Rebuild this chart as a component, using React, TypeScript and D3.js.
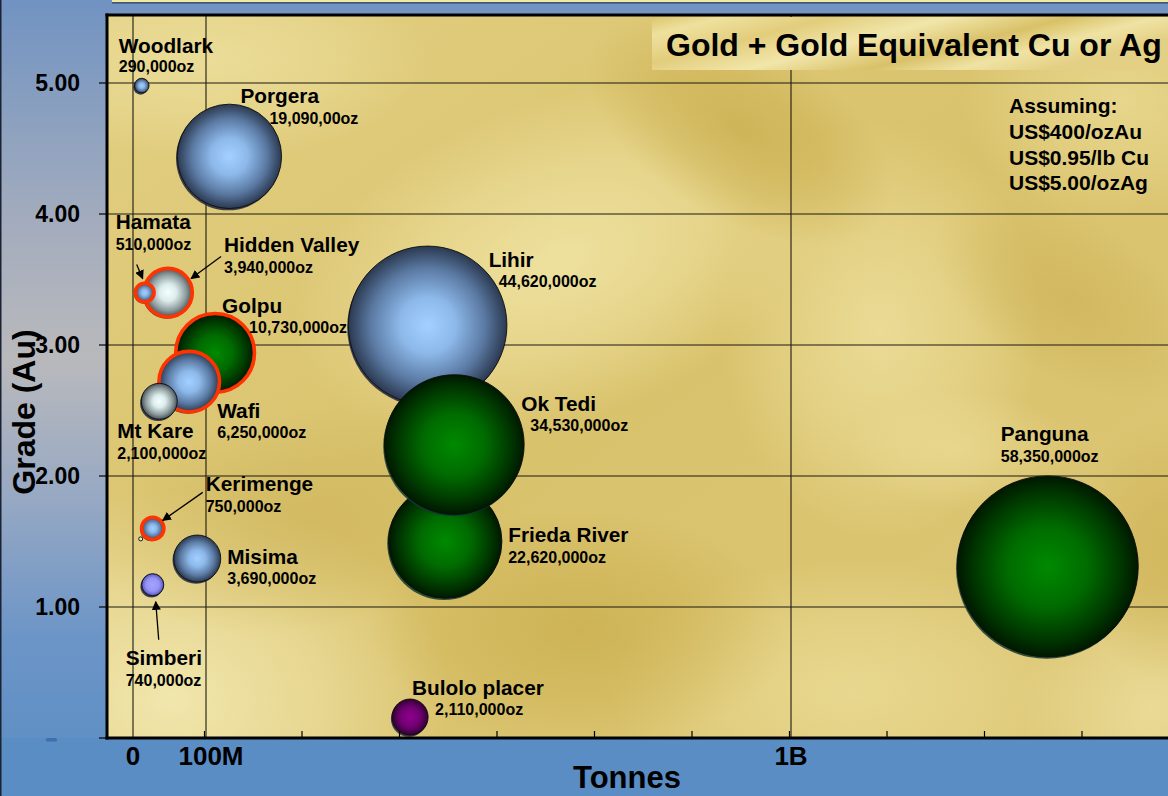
import React from "react";
import * as d3 from "d3";

// ---------- data ----------
const title = "Gold + Gold Equivalent Cu or Ag";
const assumptions = ["Assuming:", "US$400/ozAu", "US$0.95/lb Cu", "US$5.00/ozAg"];

// draw order (back to front)
const deposits = [
  "Woodlark", "Porgera", "Hidden Valley", "Hamata", "Golpu", "Wafi", "Mt Kare",
  "Kerimenge", "Misima", "Simberi", "Bulolo placer", "Lihir", "Frieda River", "Ok Tedi", "Panguna",
];
// ore tonnage, million tonnes
const tonnesMt = [12, 136, 48, 16, 114, 77, 36, 27, 88, 27, 414, 441, 468, 482, 1395];
// grade g/t Au (equivalent)
const gradeAu = [4.98, 4.44, 3.4, 3.4, 2.94, 2.72, 2.57, 1.6, 1.37, 1.17, 0.16, 3.15, 1.5, 2.24, 1.31];
// contained ounces
const ounces = [
  290000, 19090000, 3940000, 510000, 10730000, 6250000, 2100000,
  750000, 3690000, 740000, 2110000, 44620000, 22620000, 34530000, 58350000,
];
const ozText = [
  "290,000oz", "19,090,00oz", "3,940,000oz", "510,000oz", "10,730,000oz", "6,250,000oz", "2,100,000oz",
  "750,000oz", "3,690,000oz", "740,000oz", "2,110,000oz", "44,620,000oz", "22,620,000oz", "34,530,000oz", "58,350,000oz",
];
const oreType = [
  "blue", "blue", "white", "blue", "green", "blue", "white",
  "blue", "blue", "lavender", "purple", "blue", "green", "green", "green",
];
const highlighted = [false, false, true, true, true, true, false, true, false, false, false, false, false, false, false];

const gradeTicks = [0, 1, 2, 3, 4, 5];
const gradeTickLabels = ["", "1.00", "2.00", "3.00", "4.00", "5.00"];
const tonneGrid = [0, 100, 1000];
const tonneLabels = ["0", "100M", "1B"];

// ---------- layout (label offsets from bubble centre) ----------
const labelLayout: Record<string, [number, number, number, number]> = {
  "Woodlark": [-23, -33, -23, -14],
  "Porgera": [11, -53, 40, -32],
  "Hidden Valley": [56, -41, 56, -20],
  "Hamata": [-29, -64, -29, -43],
  "Golpu": [7, -40, 34, -20],
  "Wafi": [28, 36, 28, 56],
  "Mt Kare": [-42, 37, -42, 58],
  "Kerimenge": [53, -37, 53, -16],
  "Misima": [30, 5, 30, 25],
  "Simberi": [-27, 80, -27, 101],
  "Bulolo placer": [2, -22, 25, -2],
  "Lihir": [61, -58, 71, -38],
  "Frieda River": [63, 0, 63, 21],
  "Ok Tedi": [67, -34, 76, -14],
  "Panguna": [-47, -125, -47, -104],
};
const arrowLayout: Record<string, [number, number, number, number]> = {
  "Hamata": [-8, -28, -2, -14],
  "Hidden Valley": [53, -36, 23, -14],
  "Kerimenge": [50, -36, 10, -8],
  "Simberi": [6, 55, 3, 17],
};

const W = 1168;
const H = 796;
const FONT = "'Liberation Sans', Arial, Helvetica, sans-serif";

// [cx, cy, rx, ry, angle, colour, opacity]
const goldBlobs: [number, number, number, number, number, string, number][] = [
  [210, 60, 220, 100, 0, "#ecdf9c", 0.85],
  [560, 260, 280, 160, -20, "#f0e4a4", 0.9],
  [880, 330, 160, 210, 0, "#eddf9c", 0.85],
  [1120, 100, 160, 120, 0, "#ebdc96", 0.75],
  [170, 700, 280, 210, 0, "#f2e8b0", 0.95],
  [850, 690, 240, 130, 0, "#ebdc96", 0.8],
  [1150, 710, 130, 120, 0, "#ede0a0", 0.75],
  [960, 450, 110, 60, 0, "#ecdd98", 0.6],
  [740, 130, 170, 90, 30, "#c8ab4a", 0.7],
  [1070, 300, 150, 80, 30, "#cbb054", 0.55],
  [310, 520, 210, 110, -10, "#ccb257", 0.55],
  [580, 630, 210, 120, 0, "#c7ab48", 0.65],
  [1165, 550, 90, 130, 0, "#c9ac4c", 0.55],
];

const sphereStops: Record<string, [number, string][]> = {
  blue: [[0, "#a2d0ff"], [0.35, "#8db9ea"], [0.72, "#5b7aa3"], [1, "#2b3950"]],
  white: [[0, "#f4ffff"], [0.35, "#dcecec"], [0.75, "#8c9a9c"], [1, "#48525a"]],
  green: [[0, "#008a00"], [0.45, "#006b00"], [0.82, "#003500"], [1, "#001800"]],
  purple: [[0, "#8e008e"], [0.55, "#720072"], [0.9, "#420042"], [1, "#2a002a"]],
  lavender: [[0, "#a4a4ff"], [0.6, "#9494f4"], [0.88, "#6a6ad0"], [1, "#3a3a8a"]],
};

export default function App() {
  const plotLeft = 107;
  const plotTop = 15;
  const plotBottom = 738;

  const x = d3.scaleLinear().domain([0, 100, 1000]).range([133, 206, 791]);
  const y = d3.scaleLinear().domain([0, 5]).range([plotBottom, 83]);
  const r = d3.scaleSqrt().domain([0, 58350000]).range([0, 89.5]);
  const minorAxis = d3.scaleLinear().domain([0, 11]).range([plotLeft, plotLeft + 11 * 97.5]);
  const minorTicks = minorAxis.ticks(11).filter((t) => t > 0 && minorAxis(t) < W);

  const bubbles = deposits.map((name, i) => ({
    name,
    cx: x(tonnesMt[i]),
    cy: y(gradeAu[i]),
    rad: r(ounces[i]) + 1,
    type: oreType[i],
    ring: highlighted[i],
    oz: ozText[i],
  }));

  return (
    <svg
      width={W}
      height={H}
      viewBox={`0 0 ${W} ${H}`}
      style={{ position: "fixed", left: 0, top: 0, display: "block" }}
      fontFamily={FONT}
    >
      <defs>
        <linearGradient id="bg" x1="0" y1="0" x2="0" y2="1">
          <stop offset="0" stopColor="#7193c2" />
          <stop offset="0.28" stopColor="#a3acbd" />
          <stop offset="0.45" stopColor="#b9b9bc" />
          <stop offset="0.62" stopColor="#98a9c3" />
          <stop offset="0.8" stopColor="#6c95c7" />
          <stop offset="1" stopColor="#5a8dc4" />
        </linearGradient>
        <linearGradient id="goldBase" x1="0" y1="0" x2="1" y2="1">
          <stop offset="0" stopColor="#e2cf82" />
          <stop offset="0.5" stopColor="#d9c26c" />
          <stop offset="1" stopColor="#ddc776" />
        </linearGradient>
        {goldBlobs.map((b, i) => (
          <radialGradient key={i} id={`blob${i}`}>
            <stop offset="0" stopColor={b[5]} stopOpacity={b[6]} />
            <stop offset="0.55" stopColor={b[5]} stopOpacity={b[6] * 0.55} />
            <stop offset="1" stopColor={b[5]} stopOpacity={0} />
          </radialGradient>
        ))}
        <linearGradient id="titleGrad" x1="0" y1="0" x2="1" y2="0.4">
          <stop offset="0" stopColor="#dcc56e" />
          <stop offset="0.12" stopColor="#eee19e" />
          <stop offset="0.3" stopColor="#e2cd7c" />
          <stop offset="0.5" stopColor="#f1e6aa" />
          <stop offset="0.7" stopColor="#d9c168" />
          <stop offset="0.85" stopColor="#efe3a4" />
          <stop offset="1" stopColor="#e4d084" />
        </linearGradient>
        {Object.entries(sphereStops).map(([k, stops]) => (
          <radialGradient key={k} id={`sph-${k}`} cx="0.5" cy="0.5" r="0.5">
            {stops.map(([o, c], j) => (
              <stop key={j} offset={o} stopColor={c} />
            ))}
          </radialGradient>
        ))}
        <marker id="arrow" viewBox="0 0 10 10" refX="9" refY="5" markerWidth="7" markerHeight="7" orient="auto">
          <path d="M0,0 L10,5 L0,10 z" fill="#000" />
        </marker>
        <clipPath id="plotClip">
          <rect x={plotLeft} y={plotTop} width={W - plotLeft} height={plotBottom - plotTop} />
        </clipPath>
      </defs>

      {/* page background */}
      <rect x={0} y={0} width={W} height={H} fill="url(#bg)" />
      <rect x={0} y={plotBottom} width={W} height={H - plotBottom} fill="#5a8dc4" />
      <line x1={0.75} y1={0} x2={0.75} y2={H} stroke="#1a2233" strokeWidth={1.5} />
      <rect x={112} y={0} width={W - 112} height={2.2} fill="#f3ea9c" />
      <rect x={112} y={2.2} width={W - 112} height={1.3} fill="#2a4670" />
      <rect x={46} y={738} width={11} height={3.5} rx={1.5} fill="#3f6fae" />

      {/* plot area gold texture */}
      <g clipPath="url(#plotClip)">
        <rect x={plotLeft} y={plotTop} width={W - plotLeft} height={plotBottom - plotTop} fill="url(#goldBase)" />
        {goldBlobs.map((b, i) => (
          <ellipse
            key={i}
            cx={0}
            cy={0}
            rx={b[2]}
            ry={b[3]}
            transform={`translate(${b[0]},${b[1]}) rotate(${b[4]})`}
            fill={`url(#blob${i})`}
          />
        ))}
      </g>

      {/* gridlines */}
      {gradeTicks.filter((g) => g > 0).map((g) => (
        <line key={`hg${g}`} x1={plotLeft} x2={W} y1={y(g)} y2={y(g)} stroke="#1c1a10" strokeWidth={1.1} />
      ))}
      {tonneGrid.map((t) => (
        <line key={`vg${t}`} x1={x(t)} x2={x(t)} y1={plotTop} y2={plotBottom} stroke="#1c1a10" strokeWidth={1.1} />
      ))}

      {/* title box */}
      <rect x={652} y={17} width={W - 652} height={53} fill="url(#titleGrad)" />
      <text x={666} y={56} fontSize={32} fontWeight="bold" fill="#000">
        {title}
      </text>

      {/* assumptions */}
      {assumptions.map((s, i) => (
        <text key={s} x={1009} y={113 + i * 25.8} fontSize={21} fontWeight="bold" fill="#000">
          {s}
        </text>
      ))}

      {/* bubbles */}
      {bubbles.map((b) => (
        <g key={b.name}>
          <circle cx={b.cx - 1.2} cy={b.cy + 1.8} r={b.rad} fill={b.type === "green" ? "#0c3a2e" : "#1e2640"} opacity={0.85} />
          <circle
            cx={b.cx}
            cy={b.cy}
            r={b.rad}
            fill={`url(#sph-${b.type})`}
            stroke={b.ring ? "#ff3300" : "#0d0d0d"}
            strokeWidth={b.ring ? 3.6 : 0.9}
          />
        </g>
      ))}

      {/* small marker near Kerimenge */}
      {bubbles.filter((b) => b.name === "Kerimenge").map((b) => (
        <circle key="km" cx={b.cx - 12} cy={b.cy + 10.5} r={2} fill="#f4f0d8" stroke="#000" strokeWidth={0.9} />
      ))}

      {/* arrows */}
      {bubbles.filter((b) => arrowLayout[b.name]).map((b) => {
        const a = arrowLayout[b.name];
        return (
          <line
            key={`ar-${b.name}`}
            x1={b.cx + a[0]}
            y1={b.cy + a[1]}
            x2={b.cx + a[2]}
            y2={b.cy + a[3]}
            stroke="#000"
            strokeWidth={1.3}
            markerEnd="url(#arrow)"
          />
        );
      })}

      {/* labels */}
      {bubbles.map((b) => {
        const l = labelLayout[b.name];
        return (
          <g key={`lb-${b.name}`} fill="#000" fontWeight="bold">
            <text x={b.cx + l[0]} y={b.cy + l[1]} fontSize={20.8}>
              {b.name}
            </text>
            <text x={b.cx + l[2]} y={b.cy + l[3]} fontSize={16}>
              {b.oz}
            </text>
          </g>
        );
      })}

      {/* axes frame */}
      <line x1={plotLeft} x2={plotLeft} y1={plotTop - 1.5} y2={plotBottom + 1.5} stroke="#000" strokeWidth={3} />
      <line x1={plotLeft - 1.5} x2={W} y1={plotTop} y2={plotTop} stroke="#000" strokeWidth={3} />
      <line x1={plotLeft - 1.5} x2={W} y1={plotBottom} y2={plotBottom} stroke="#000" strokeWidth={3} />

      {/* y ticks and labels */}
      {gradeTicks.map((g, i) => (
        <g key={`yt${g}`}>
          <line x1={plotLeft - 8} x2={plotLeft} y1={y(g)} y2={y(g)} stroke="#000" strokeWidth={1.2} />
          <text x={80} y={y(g) + 8.3} fontSize={23} fontWeight="bold" textAnchor="end" fill="#000">
            {gradeTickLabels[i]}
          </text>
        </g>
      ))}

      {/* x minor ticks */}
      {minorTicks.map((t) => (
        <line key={`xt${t}`} x1={minorAxis(t)} x2={minorAxis(t)} y1={plotBottom} y2={plotBottom - 7} stroke="#000" strokeWidth={1.2} />
      ))}

      {/* x labels */}
      {tonneGrid.map((t, i) => (
        <text
          key={`xl${t}`}
          x={x(t) + (i === 1 ? 5 : 0)}
          y={765}
          fontSize={26}
          fontWeight="bold"
          textAnchor="middle"
          fill="#000"
        >
          {tonneLabels[i]}
        </text>
      ))}

      {/* axis titles */}
      <text x={627} y={788} fontSize={31} fontWeight="bold" textAnchor="middle" fill="#000">
        Tonnes
      </text>
      <text
        transform="translate(35,412) rotate(-90)"
        fontSize={32}
        fontWeight="bold"
        textAnchor="middle"
        fill="#000"
      >
        Grade (Au)
      </text>
    </svg>
  );
}
